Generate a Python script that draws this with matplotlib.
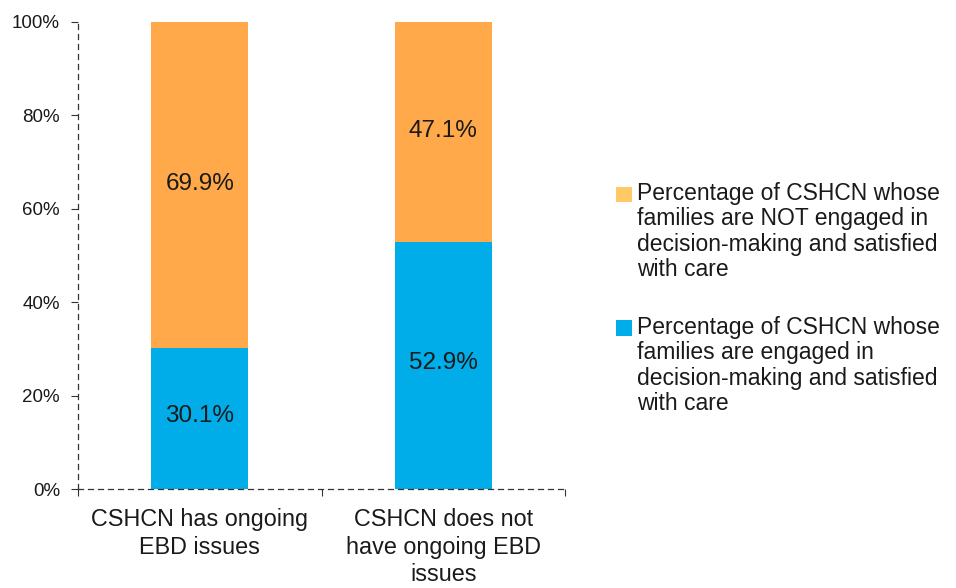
import matplotlib
matplotlib.use("Agg")
import matplotlib.pyplot as plt
from matplotlib.patches import Patch, Rectangle
from matplotlib.legend_handler import HandlerPatch
from matplotlib.ticker import FixedLocator

categories = ["CSHCN has ongoing\nEBD issues", "CSHCN does not\nhave ongoing EBD\nissues"]
engaged = [30.1, 52.9]
not_engaged = [69.9, 47.1]
yticks = [0, 20, 40, 60, 80, 100]
legend_labels = [
    "Percentage of CSHCN whose\nfamilies are NOT engaged in\ndecision-making and satisfied\nwith care",
    "Percentage of CSHCN whose\nfamilies are engaged in\ndecision-making and satisfied\nwith care",
]

BLUE = "#00ADE8"
ORANGE = "#FFA94B"
ORANGE_LEG = "#FFC965"
TXT = "#1a1a1a"

plt.rcParams['font.family'] = ['Liberation Sans', 'DejaVu Sans']

fig = plt.figure(figsize=(9.56, 5.88), dpi=100)
ax = fig.add_axes([78/956, 1-489/588, (565-78)/956, (489-22)/588])

x = list(range(len(categories)))
ax.bar(x, engaged, width=0.40, color=BLUE)
ax.bar(x, not_engaged, bottom=engaged, width=0.40, color=ORANGE)

for i in x:
    ax.text(i, engaged[i]/2 + 0.6, f"{engaged[i]:.1f}%", ha='center', va='center', fontsize=17.5, color=TXT)
    ax.text(i, engaged[i] + not_engaged[i]/2 + 0.3, f"{not_engaged[i]:.1f}%", ha='center', va='center', fontsize=17.5, color=TXT)

ax.set_xlim(-0.5, 1.5)
ax.set_ylim(0, 100)
ax.set_yticks(yticks)
ax.set_yticklabels([f"{v}%" for v in yticks], fontsize=13.5, color=TXT)
ax.xaxis.set_major_locator(FixedLocator([-0.5, 0.5, 1.5]))
ax.set_xticklabels([])
ax.xaxis.set_minor_locator(FixedLocator(x))
ax.set_xticklabels(categories, minor=True, fontsize=16.8, color=TXT, linespacing=1.24)
ax.tick_params(axis='x', which='minor', length=0, pad=14)
ax.tick_params(axis='x', which='major', length=5, width=0.8, color='#333333')
ax.tick_params(axis='y', length=5, width=0.8, color='#333333', pad=8)

for s in ['top', 'right']:
    ax.spines[s].set_visible(False)
for s in ['left', 'bottom']:
    ax.spines[s].set_linestyle((0, (4, 4)))
    ax.spines[s].set_color('#333333')
    ax.spines[s].set_linewidth(0.9)


def top_square(legend, orig_handle, xdescent, ydescent, width, height, fontsize):
    side = 0.68 * fontsize
    return Rectangle((-xdescent, 1.68 * fontsize), side, side)


handles = [Patch(facecolor=ORANGE_LEG, edgecolor='none'), Patch(facecolor=BLUE, edgecolor='none')]
leg = fig.legend(handles, legend_labels, loc='upper left', bbox_to_anchor=(616/956, 1-182/588),
                 frameon=False, fontsize=16.5, handlelength=0.68, handleheight=0.7,
                 handletextpad=0.22, labelspacing=1.5, borderpad=0, borderaxespad=0,
                 handler_map={Patch: HandlerPatch(patch_func=top_square)})
for t in leg.get_texts():
    t.set_color(TXT)
    t.set_linespacing(1.135)

fig.savefig("out.png", dpi=100)
